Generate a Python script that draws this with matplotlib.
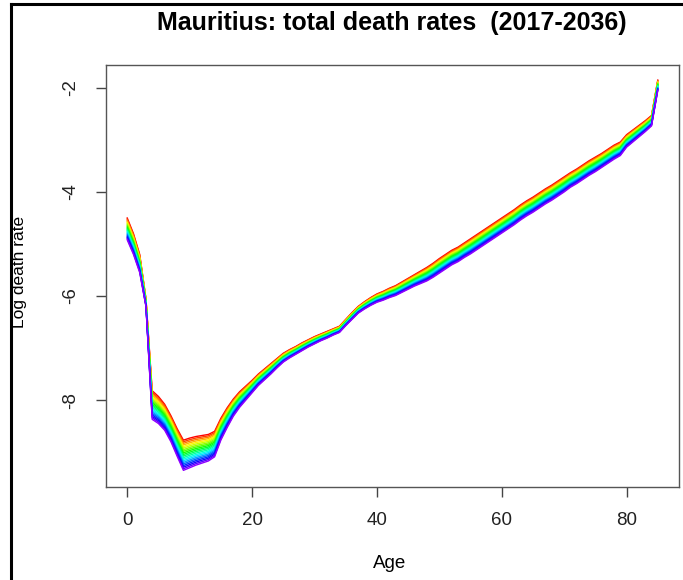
import colorsys
import matplotlib
matplotlib.use("Agg")
import matplotlib.pyplot as plt
from matplotlib.lines import Line2D
import numpy as np

plt.rcParams["font.family"] = ["Liberation Sans", "DejaVu Sans"]

# forecast years 2017..2036
years = list(range(2017, 2037))
ages = list(range(0, 86))

log_rate_2017 = [
    -4.50, -4.80, -5.20, -6.05, -7.82, -7.93, -8.08, -8.30, -8.55, -8.77,
    -8.73, -8.70, -8.68, -8.66, -8.60, -8.35, -8.15, -7.98, -7.84, -7.73,
    -7.62, -7.50, -7.40, -7.30, -7.20, -7.10, -7.03, -6.97, -6.90, -6.84,
    -6.78, -6.73, -6.68, -6.63, -6.58, -6.45, -6.32, -6.20, -6.11, -6.03,
    -5.96, -5.91, -5.85, -5.80, -5.73, -5.66, -5.59, -5.52, -5.45, -5.37,
    -5.28, -5.20, -5.12, -5.06, -4.98, -4.90, -4.82, -4.74, -4.66, -4.58,
    -4.50, -4.42, -4.34, -4.25, -4.17, -4.10, -4.02, -3.94, -3.87, -3.79,
    -3.71, -3.63, -3.56, -3.48, -3.40, -3.33, -3.26, -3.18, -3.10, -3.04,
    -2.90, -2.81, -2.72, -2.63, -2.53, -1.85,
]

# total fall of the log rate between 2017 and 2036 at each age (width of the fan)
decline_2036 = [
    0.42, 0.40, 0.35, 0.15, 0.55, 0.52, 0.50, 0.50, 0.53, 0.58,
    0.57, 0.55, 0.53, 0.51, 0.49, 0.42, 0.38, 0.33, 0.30, 0.27,
    0.24, 0.22, 0.21, 0.20, 0.18, 0.17, 0.16, 0.15, 0.15, 0.14,
    0.14, 0.13, 0.13, 0.12, 0.12, 0.12, 0.13, 0.13, 0.14, 0.15,
    0.16, 0.17, 0.18, 0.19, 0.20, 0.21, 0.22, 0.24, 0.26, 0.27,
    0.28, 0.28, 0.28, 0.28, 0.28, 0.29, 0.29, 0.29, 0.29, 0.29,
    0.29, 0.29, 0.29, 0.29, 0.29, 0.29, 0.29, 0.29, 0.29, 0.29,
    0.29, 0.28, 0.28, 0.28, 0.28, 0.28, 0.27, 0.27, 0.27, 0.26,
    0.24, 0.23, 0.22, 0.21, 0.20, 0.20,
]

# share of the 2017->2036 fall reached in each year (fan lines look evenly spaced)
year_share = [0.0, 0.053, 0.105, 0.158, 0.211, 0.263, 0.316, 0.368, 0.421, 0.474,
              0.526, 0.579, 0.632, 0.684, 0.737, 0.789, 0.842, 0.895, 0.947, 1.0]

base = np.array(log_rate_2017)
drop = np.array(decline_2036)

fig = plt.figure(figsize=(6.83, 5.80), dpi=100)
ax = fig.add_axes([106 / 683, 93 / 580, 573 / 683, 422 / 580])

n = len(years)
for i, (yr, share) in enumerate(zip(years, year_share)):
    # R's rainbow(n * 1.25)[1:n]: red through to violet
    col = colorsys.hsv_to_rgb(i / (n * 1.25), 1, 1)
    ax.plot(ages, base - drop * share, color=col, lw=1.0)

ax.set_xlim(-3.4, 88.4)
ax.set_ylim(-9.67, -1.56)
ax.set_xticks([0, 20, 40, 60, 80])
ax.set_yticks([-2, -4, -6, -8])
ax.set_yticklabels(["-2", "-4", "-6", "-8"], rotation=90, va="center")
ax.tick_params(axis="both", direction="out", length=7, width=1, color="#444444",
               labelsize=13.5, labelcolor="#222222")
ax.tick_params(axis="x", pad=11)
ax.tick_params(axis="y", pad=12)
for sp in ax.spines.values():
    sp.set_color("#555555")
    sp.set_linewidth(1.0)

fig.text(392 / 683, 1 - 23 / 580, "Mauritius: total death rates  (2017-2036)",
         ha="center", va="center", fontsize=18, fontweight="bold")
fig.text(390 / 683, 1 - 563 / 580, "Age", ha="center", va="center", fontsize=13.5)
fig.text(20 / 683, 1 - 272 / 580, "Log death rate", ha="center", va="center",
         rotation=90, fontsize=12.5)

# outer frame of the screenshot (top and left edges)
fig.add_artist(Line2D([11 / 683, 11 / 683], [0, 1 - 4 / 580], color="black", lw=2.2,
                      transform=fig.transFigure))
fig.add_artist(Line2D([11 / 683, 1], [1 - 4 / 580, 1 - 4 / 580], color="black", lw=2.2,
                      transform=fig.transFigure))

fig.savefig("out.png", dpi=100)
